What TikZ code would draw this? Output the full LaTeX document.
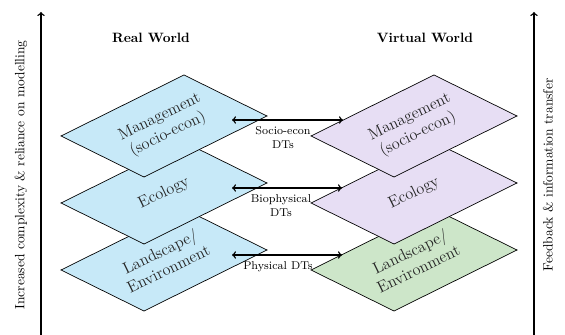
\documentclass[tikz,border=0pt]{standalone}
\usepackage{amsmath, amssymb}
\usepackage{tikz}
\usetikzlibrary{positioning}

\definecolor{realblue}{RGB}{199,233,248}
\definecolor{virtpurple}{RGB}{231,222,244}
\definecolor{virtgreen}{RGB}{205,230,201}

\tikzset{
  axis/.style={line width=1pt},
  axislabel/.style={rotate=90},
  title/.style={font=\bfseries},
  layer/.style={draw=black, line width=0.5pt},
  layertext/.style={rotate=26, align=center, font=\large, text=black!85},
  dtarrow/.style={<->, line width=1pt},
  dtlabel/.style={font=\fontsize{8.4}{10}\selectfont, align=center, anchor=north, inner sep=1pt}
}

% one plane of the stack, drawn round its centre
\newcommand{\layerplane}[2]{%
  \filldraw[layer, fill=#2, shift={(#1)}] (-103,10) -- (20,-51) -- (103,-10) -- (-20,51) -- cycle;}

\begin{document}
\begin{tikzpicture}[x=0.026cm, y=-0.026cm]
\useasboundingbox (0,0) rectangle (565,335);
\clip (0,0) rectangle (565,335);

% axes
\coordinate (lbot) at (41,345);
\coordinate (ltop) at (41,12);
\coordinate (rbot) at (534,339);
\coordinate (rtop) at (534,12);
\draw[axis, ->] (lbot) -- (ltop);
\draw[axis, <->] (rbot) -- (rtop);
\node[axislabel] (complexity) at (21,175) {Increased complexity \& reliance on modelling};
\node[axislabel] (feedback) at (548,175) {Feedback \& information transfer};

% titles
\node[title] (real) at (151,38) {Real World};
\node[title] (virtual) at (425,38) {Virtual World};

% real world planes
\coordinate (rm) at (164,126);
\coordinate (re) at (164,193);
\coordinate (rl) at (164,260);
\layerplane{rl}{realblue}
\node[layertext] (rltext) at (rl) {Landscape/\\Environment};
\layerplane{re}{realblue}
\node[layertext] (retext) at (re) {Ecology};
\layerplane{rm}{realblue}
\node[layertext] (rmtext) at (rm) {Management\\(socio-econ)};

% virtual world planes
\coordinate (vm) at (414,126);
\coordinate (ve) at (414,193);
\coordinate (vl) at (414,260);
\layerplane{vl}{virtgreen}
\node[layertext] (vltext) at (vl) {Landscape/\\Environment};
\layerplane{ve}{virtpurple}
\node[layertext] (vetext) at (ve) {Ecology};
\layerplane{vm}{virtpurple}
\node[layertext] (vmtext) at (vm) {Management\\(socio-econ)};

% digital twin links
\coordinate (sociol) at (232,120);
\coordinate (sociov) at (343,120);
\coordinate (biol) at (232,188);
\coordinate (biov) at (342,188);
\coordinate (physl) at (232,255);
\coordinate (physv) at (342,255);
\draw[dtarrow] (sociol) -- (sociov);
\draw[dtarrow] (biol) -- (biov);
\draw[dtarrow] (physl) -- (physv);
\node[dtlabel] (socio) at (283,125) {Socio-econ\\DTs};
\node[dtlabel] (bio) at (281,193) {Biophysical\\DTs};
\node[dtlabel] (phys) at (278,260) {Physical DTs};
\end{tikzpicture}
\end{document}
